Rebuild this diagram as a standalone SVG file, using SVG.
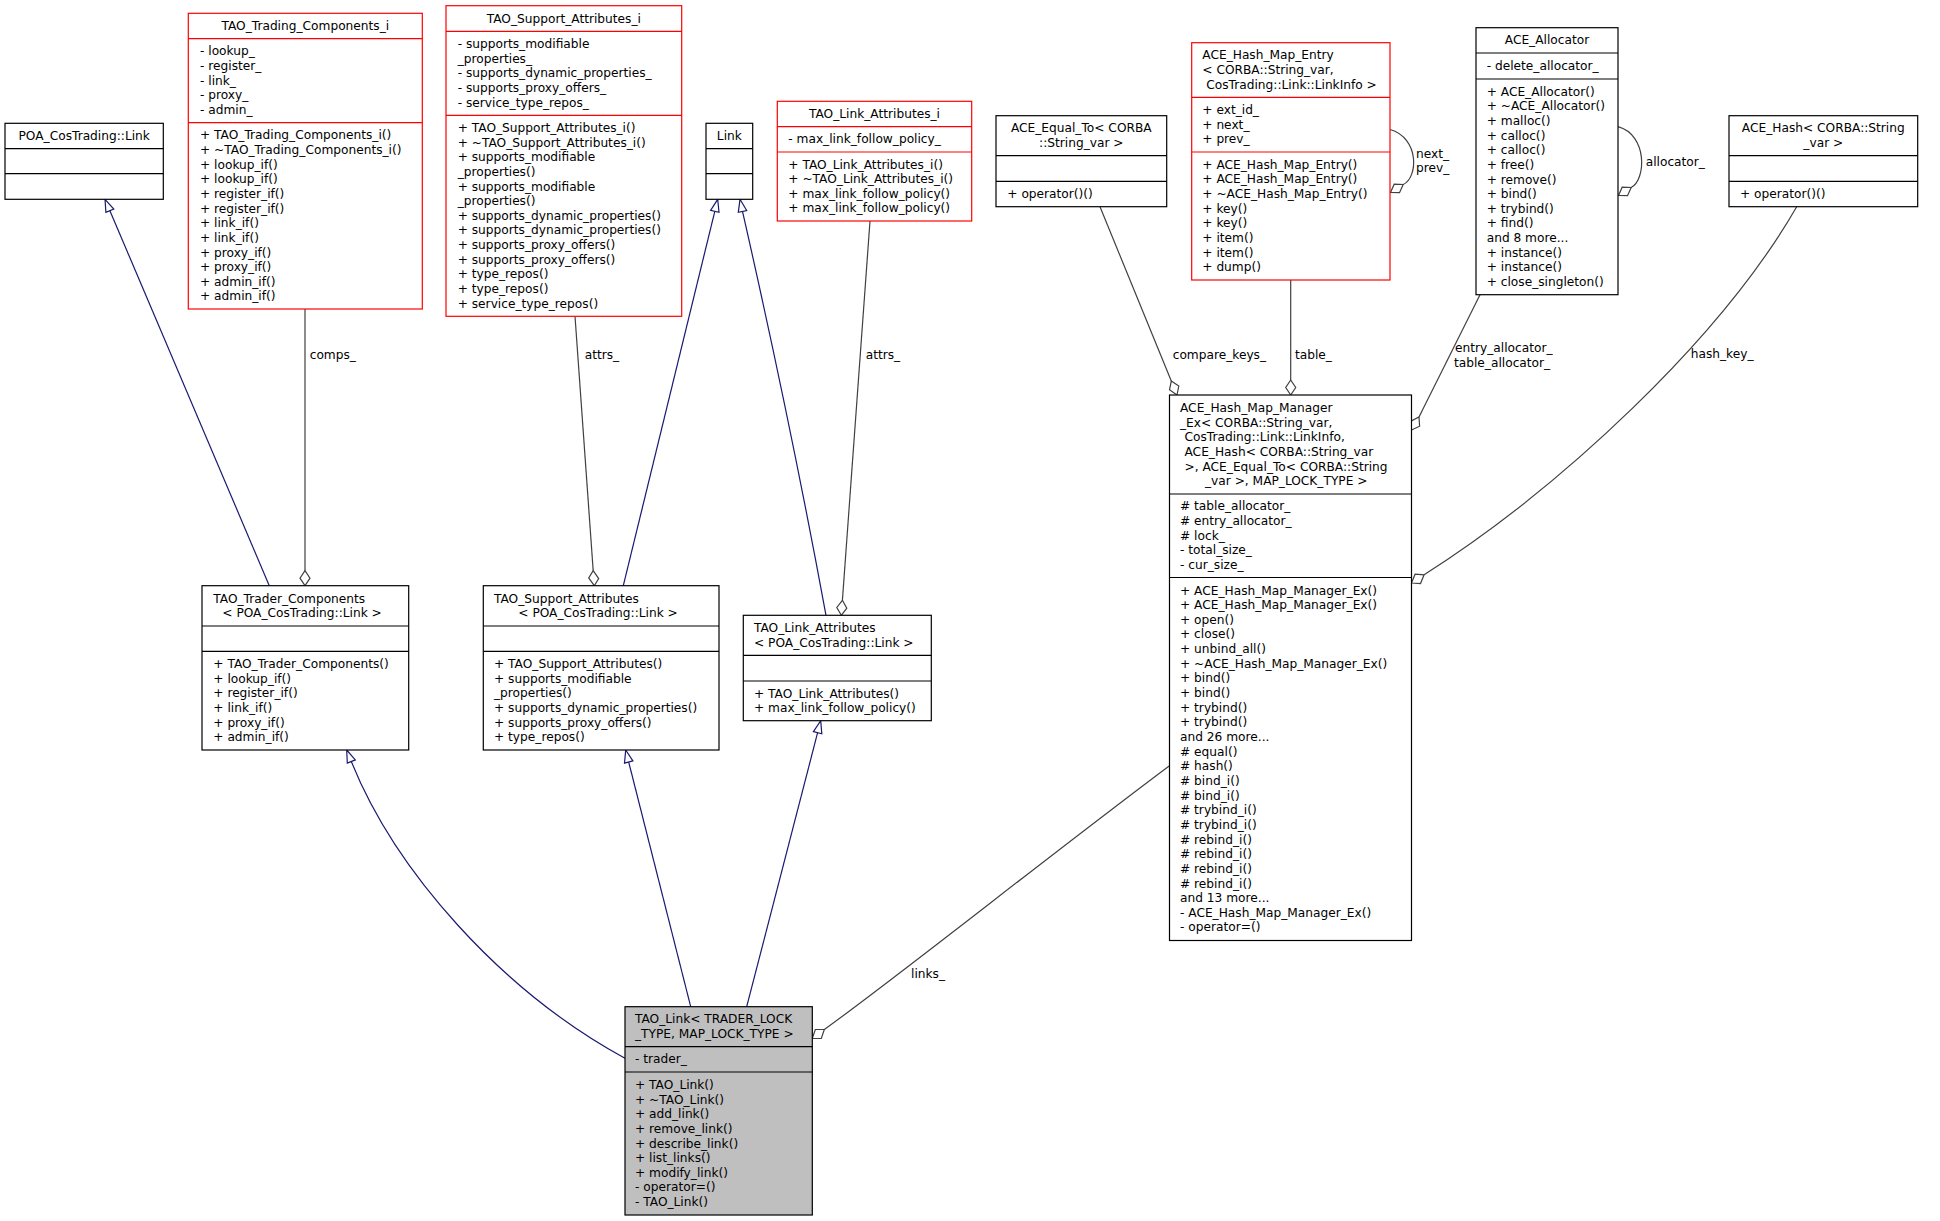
<svg xmlns="http://www.w3.org/2000/svg" width="1940" height="1221" viewBox="0 0 1940 1221">
<style>
text{font-family:"DejaVu Sans",sans-serif;font-size:12.2px;fill:#000}
.m{text-anchor:middle}
.b{fill:#fff;stroke:#000;stroke-width:1.2}
.rd{fill:#fff;stroke:#ff0000;stroke-width:1.2}
.g{fill:#bfbfbf;stroke:#000;stroke-width:1.2}
.dk{stroke:#000;stroke-width:1.2}
.dr{stroke:#ff0000;stroke-width:1.2}
.i{fill:none;stroke:#191970;stroke-width:1.2}
.ia{fill:#fff;stroke:#191970;stroke-width:1.2}
.u{fill:none;stroke:#404040;stroke-width:1.2}
.ua{fill:#fff;stroke:#404040;stroke-width:1.2}
</style>
<rect width="1940" height="1221" fill="#fff"/>
<g id="edges">
<!-- inheritance -->
<path class="i" d="M109.9,210.7 L269.3,585.7"/>
<polygon class="ia" points="105,199.3 113.8,209 105.9,212.4"/>
<path class="i" d="M714.8,211.3 L623.3,585.7"/>
<polygon class="ia" points="717.7,199.3 719,212.3 710.6,210.3"/>
<path class="i" d="M742.5,211.4 Q790,420 826,615.3"/>
<polygon class="ia" points="740,199.3 746.7,210.5 738.3,212.3"/>
<path class="i" d="M351.3,761.5 C395,870 500,990 625,1058.3"/>
<polygon class="ia" points="346.7,750 355.3,759.9 347.3,763.1"/>
<path class="i" d="M628.7,762 L690.7,1006.7"/>
<polygon class="ia" points="625.7,750 632.9,760.9 624.5,763.1"/>
<path class="i" d="M817.6,732.7 L746.7,1006.7"/>
<polygon class="ia" points="820.7,720.7 821.8,733.8 813.4,731.6"/>
<!-- aggregation -->
<path class="u" d="M305,309 L305,570.7"/>
<polygon class="ua" points="305,585.7 310,578.2 305,570.7 300,578.2"/>
<text x="309.7" y="359.3">comps_</text>
<path class="u" d="M575,316.3 L593.2,570.7"/>
<polygon class="ua" points="594.3,585.7 598.7,578.6 593.2,570.7 588.7,577.9"/>
<text x="584.7" y="359.3">attrs_</text>
<path class="u" d="M870,221 L842.4,600.3"/>
<polygon class="ua" points="841.3,615.3 846.8,608.2 842.4,600.3 836.8,607.5"/>
<text x="865.7" y="359.3">attrs_</text>
<path class="u" d="M1100,206.7 L1171.3,381.1"/>
<polygon class="ua" points="1177,395 1178.8,386 1171.3,381.1 1169.5,389.8"/>
<text x="1172.7" y="359.3">compare_keys_</text>
<path class="u" d="M1290.7,280 L1290.7,380"/>
<polygon class="ua" points="1290.7,395 1295.7,387.5 1290.7,380 1285.7,387.5"/>
<text x="1295" y="359.3">table_</text>
<path class="u" d="M1480,294.7 L1419,417"/>
<polygon class="ua" points="1411.5,430 1419.6,426.2 1419,417 1410.9,421.2"/>
<text x="1455" y="352.3">entry_allocator_</text>
<text x="1454" y="367">table_allocator_</text>
<path class="u" d="M1424.1,574.8 C1560,488 1720,340 1796.7,206.7"/>
<polygon class="ua" points="1411.5,583 1420.5,583.6 1424.1,574.8 1415.1,574.2"/>
<text x="1690.7" y="358.3">hash_key_</text>
<path class="u" d="M824.3,1029.5 C900,975 1050,855 1169.5,765.7"/>
<polygon class="ua" points="812.3,1038.5 821.3,1038.5 824.3,1029.5 815.3,1029.5"/>
<text x="911" y="978">links_</text>
<path class="u" d="M1390,129.5 C1420,138 1418,178 1403.2,184.5"/>
<polygon class="ua" points="1390.5,192.5 1399.5,192.7 1403.2,184.5 1394.2,184.2"/>
<text x="1416" y="157.5">next_</text>
<text x="1416" y="172.2">prev_</text>
<path class="u" d="M1618,126.7 C1648,135 1646,180 1631.2,187.5"/>
<polygon class="ua" points="1618.5,195.5 1627.5,195.7 1631.2,187.5 1622.2,187.2"/>
<text x="1645.7" y="165.5">allocator_</text>
</g>
<g id="n_poa">
<rect class="b" x="5" y="123.3" width="158.3" height="76"/>
<path class="dk" d="M5,148.7H163.3M5,173.7H163.3"/>
<text class="m" x="84.2" y="140">POA_CosTrading::Link</text>
</g>
<g id="n_tci">
<rect class="rd" x="188.3" y="13.3" width="234" height="295.7"/>
<path class="dr" d="M188.3,38.7H422.3M188.3,122.7H422.3"/>
<text class="m" x="305.3" y="30">TAO_Trading_Components_i</text>
<text><tspan x="200" y="55.4">- lookup_</tspan><tspan x="200" y="70.05">- register_</tspan><tspan x="200" y="84.7">- link_</tspan><tspan x="200" y="99.35">- proxy_</tspan><tspan x="200" y="114">- admin_</tspan></text>
<text><tspan x="200" y="139.3">+ TAO_Trading_Components_i()</tspan><tspan x="200" y="153.95">+ ~TAO_Trading_Components_i()</tspan><tspan x="200" y="168.6">+ lookup_if()</tspan><tspan x="200" y="183.25">+ lookup_if()</tspan><tspan x="200" y="197.9">+ register_if()</tspan><tspan x="200" y="212.55">+ register_if()</tspan><tspan x="200" y="227.2">+ link_if()</tspan><tspan x="200" y="241.85">+ link_if()</tspan><tspan x="200" y="256.5">+ proxy_if()</tspan><tspan x="200" y="271.15">+ proxy_if()</tspan><tspan x="200" y="285.8">+ admin_if()</tspan><tspan x="200" y="300.45">+ admin_if()</tspan></text>
</g>
<g id="n_sai">
<rect class="rd" x="446" y="5.7" width="235.7" height="310.6"/>
<path class="dr" d="M446,31.3H681.7M446,115.3H681.7"/>
<text class="m" x="563.85" y="22.5">TAO_Support_Attributes_i</text>
<text><tspan x="457.7" y="48">- supports_modifiable</tspan><tspan x="457.7" y="62.65">_properties_</tspan><tspan x="457.7" y="77.3">- supports_dynamic_properties_</tspan><tspan x="457.7" y="91.95">- supports_proxy_offers_</tspan><tspan x="457.7" y="106.6">- service_type_repos_</tspan></text>
<text><tspan x="457.7" y="131.9">+ TAO_Support_Attributes_i()</tspan><tspan x="457.7" y="146.55">+ ~TAO_Support_Attributes_i()</tspan><tspan x="457.7" y="161.2">+ supports_modifiable</tspan><tspan x="457.7" y="175.85">_properties()</tspan><tspan x="457.7" y="190.5">+ supports_modifiable</tspan><tspan x="457.7" y="205.15">_properties()</tspan><tspan x="457.7" y="219.8">+ supports_dynamic_properties()</tspan><tspan x="457.7" y="234.45">+ supports_dynamic_properties()</tspan><tspan x="457.7" y="249.1">+ supports_proxy_offers()</tspan><tspan x="457.7" y="263.75">+ supports_proxy_offers()</tspan><tspan x="457.7" y="278.4">+ type_repos()</tspan><tspan x="457.7" y="293.05">+ type_repos()</tspan><tspan x="457.7" y="307.7">+ service_type_repos()</tspan></text>
</g>
<g id="n_link">
<rect class="b" x="706" y="123.3" width="46.7" height="76"/>
<path class="dk" d="M706,148.7H752.7M706,173.7H752.7"/>
<text class="m" x="729.35" y="140">Link</text>
</g>
<g id="n_lai">
<rect class="rd" x="777.3" y="101.3" width="194.4" height="119.7"/>
<path class="dr" d="M777.3,126.7H971.7M777.3,152H971.7"/>
<text class="m" x="874.5" y="118">TAO_Link_Attributes_i</text>
<text x="788.3" y="143.35">- max_link_follow_policy_</text>
<text><tspan x="788.3" y="168.5">+ TAO_Link_Attributes_i()</tspan><tspan x="788.3" y="183.15">+ ~TAO_Link_Attributes_i()</tspan><tspan x="788.3" y="197.8">+ max_link_follow_policy()</tspan><tspan x="788.3" y="212.45">+ max_link_follow_policy()</tspan></text>
</g>
<g id="n_eq">
<rect class="b" x="996" y="115.7" width="170.7" height="91"/>
<path class="dk" d="M996,155.7H1166.7M996,181.3H1166.7"/>
<text class="m"><tspan x="1081.3" y="132.4">ACE_Equal_To&lt; CORBA</tspan><tspan x="1081.3" y="147.05">::String_var &gt;</tspan></text>
<text x="1007.3" y="198">+ operator()()</text>
</g>
<g id="n_entry">
<rect class="rd" x="1191.7" y="42.7" width="198.3" height="237.3"/>
<path class="dr" d="M1191.7,97.3H1390M1191.7,152H1390"/>
<text><tspan x="1202.3" y="59.35">ACE_Hash_Map_Entry</tspan><tspan x="1202.3" y="74">&lt; CORBA::String_var,</tspan><tspan x="1206.3" y="88.65">CosTrading::Link::LinkInfo &gt;</tspan></text>
<text><tspan x="1202.3" y="114">+ ext_id_</tspan><tspan x="1202.3" y="128.65">+ next_</tspan><tspan x="1202.3" y="143.3">+ prev_</tspan></text>
<text><tspan x="1202.3" y="168.7">+ ACE_Hash_Map_Entry()</tspan><tspan x="1202.3" y="183.35">+ ACE_Hash_Map_Entry()</tspan><tspan x="1202.3" y="198">+ ~ACE_Hash_Map_Entry()</tspan><tspan x="1202.3" y="212.65">+ key()</tspan><tspan x="1202.3" y="227.3">+ key()</tspan><tspan x="1202.3" y="241.95">+ item()</tspan><tspan x="1202.3" y="256.6">+ item()</tspan><tspan x="1202.3" y="271.25">+ dump()</tspan></text>
</g>
<g id="n_alloc">
<rect class="b" x="1476" y="27.7" width="142" height="267"/>
<path class="dk" d="M1476,53H1618M1476,79H1618"/>
<text class="m" x="1547" y="44.3">ACE_Allocator</text>
<text x="1486.7" y="70">- delete_allocator_</text>
<text><tspan x="1486.7" y="95.6">+ ACE_Allocator()</tspan><tspan x="1486.7" y="110.25">+ ~ACE_Allocator()</tspan><tspan x="1486.7" y="124.9">+ malloc()</tspan><tspan x="1486.7" y="139.55">+ calloc()</tspan><tspan x="1486.7" y="154.2">+ calloc()</tspan><tspan x="1486.7" y="168.85">+ free()</tspan><tspan x="1486.7" y="183.5">+ remove()</tspan><tspan x="1486.7" y="198.15">+ bind()</tspan><tspan x="1486.7" y="212.8">+ trybind()</tspan><tspan x="1486.7" y="227.45">+ find()</tspan><tspan x="1486.7" y="242.1">and 8 more...</tspan><tspan x="1486.7" y="256.75">+ instance()</tspan><tspan x="1486.7" y="271.4">+ instance()</tspan><tspan x="1486.7" y="286.05">+ close_singleton()</tspan></text>
</g>
<g id="n_hash">
<rect class="b" x="1729" y="115.7" width="188.7" height="91"/>
<path class="dk" d="M1729,155.7H1917.7M1729,181.3H1917.7"/>
<text class="m"><tspan x="1823.3" y="132.4">ACE_Hash&lt; CORBA::String</tspan><tspan x="1823.3" y="147.05">_var &gt;</tspan></text>
<text x="1740" y="198">+ operator()()</text>
</g>
<g id="n_mgr">
<rect class="b" x="1169.5" y="395" width="242" height="545.5"/>
<path class="dk" d="M1169.5,494H1411.5M1169.5,577.5H1411.5"/>
<text><tspan x="1180" y="411.9">ACE_Hash_Map_Manager</tspan><tspan x="1180" y="426.55">_Ex&lt; CORBA::String_var,</tspan><tspan x="1184.5" y="441.2">CosTrading::Link::LinkInfo,</tspan><tspan x="1184.5" y="455.85">ACE_Hash&lt; CORBA::String_var</tspan><tspan x="1184.5" y="470.5">&gt;, ACE_Equal_To&lt; CORBA::String</tspan><tspan x="1205" y="485.15">_var &gt;, MAP_LOCK_TYPE &gt;</tspan></text>
<text><tspan x="1180" y="510.45"># table_allocator_</tspan><tspan x="1180" y="525.1"># entry_allocator_</tspan><tspan x="1180" y="539.75"># lock_</tspan><tspan x="1180" y="554.4">- total_size_</tspan><tspan x="1180" y="569.05">- cur_size_</tspan></text>
<text><tspan x="1180" y="594.5">+ ACE_Hash_Map_Manager_Ex()</tspan><tspan x="1180" y="609.15">+ ACE_Hash_Map_Manager_Ex()</tspan><tspan x="1180" y="623.8">+ open()</tspan><tspan x="1180" y="638.45">+ close()</tspan><tspan x="1180" y="653.1">+ unbind_all()</tspan><tspan x="1180" y="667.75">+ ~ACE_Hash_Map_Manager_Ex()</tspan><tspan x="1180" y="682.4">+ bind()</tspan><tspan x="1180" y="697.05">+ bind()</tspan><tspan x="1180" y="711.7">+ trybind()</tspan><tspan x="1180" y="726.35">+ trybind()</tspan><tspan x="1180" y="741">and 26 more...</tspan><tspan x="1180" y="755.65"># equal()</tspan><tspan x="1180" y="770.3"># hash()</tspan><tspan x="1180" y="784.95"># bind_i()</tspan><tspan x="1180" y="799.6"># bind_i()</tspan><tspan x="1180" y="814.25"># trybind_i()</tspan><tspan x="1180" y="828.9"># trybind_i()</tspan><tspan x="1180" y="843.55"># rebind_i()</tspan><tspan x="1180" y="858.2"># rebind_i()</tspan><tspan x="1180" y="872.85"># rebind_i()</tspan><tspan x="1180" y="887.5"># rebind_i()</tspan><tspan x="1180" y="902.15">and 13 more...</tspan><tspan x="1180" y="916.8">- ACE_Hash_Map_Manager_Ex()</tspan><tspan x="1180" y="931.45">- operator=()</tspan></text>
</g>
<g id="n_trader">
<rect class="b" x="202" y="585.7" width="206.7" height="164.3"/>
<path class="dk" d="M202,626H408.7M202,651.3H408.7"/>
<text><tspan x="213.3" y="602.5">TAO_Trader_Components</tspan><tspan x="222.3" y="617.15">&lt; POA_CosTrading::Link &gt;</tspan></text>
<text><tspan x="213.3" y="668">+ TAO_Trader_Components()</tspan><tspan x="213.3" y="682.65">+ lookup_if()</tspan><tspan x="213.3" y="697.3">+ register_if()</tspan><tspan x="213.3" y="711.95">+ link_if()</tspan><tspan x="213.3" y="726.6">+ proxy_if()</tspan><tspan x="213.3" y="741.25">+ admin_if()</tspan></text>
</g>
<g id="n_support">
<rect class="b" x="483.3" y="585.7" width="235.7" height="164.3"/>
<path class="dk" d="M483.3,626H719M483.3,651.3H719"/>
<text><tspan x="494" y="602.5">TAO_Support_Attributes</tspan><tspan x="518.3" y="617.15">&lt; POA_CosTrading::Link &gt;</tspan></text>
<text><tspan x="494" y="668">+ TAO_Support_Attributes()</tspan><tspan x="494" y="682.65">+ supports_modifiable</tspan><tspan x="494" y="697.3">_properties()</tspan><tspan x="494" y="711.95">+ supports_dynamic_properties()</tspan><tspan x="494" y="726.6">+ supports_proxy_offers()</tspan><tspan x="494" y="741.25">+ type_repos()</tspan></text>
</g>
<g id="n_linkattr">
<rect class="b" x="743.3" y="615.3" width="188" height="105.4"/>
<path class="dk" d="M743.3,655.3H931.3M743.3,681H931.3"/>
<text><tspan x="754" y="632">TAO_Link_Attributes</tspan><tspan x="754" y="646.65">&lt; POA_CosTrading::Link &gt;</tspan></text>
<text><tspan x="754" y="697.5">+ TAO_Link_Attributes()</tspan><tspan x="754" y="712.15">+ max_link_follow_policy()</tspan></text>
</g>
<g id="n_taolink">
<rect class="g" x="625" y="1006.7" width="187.3" height="208.3"/>
<path class="dk" d="M625,1046.7H812.3M625,1072H812.3"/>
<text><tspan x="635" y="1023.3">TAO_Link&lt; TRADER_LOCK</tspan><tspan x="635" y="1037.95">_TYPE, MAP_LOCK_TYPE &gt;</tspan></text>
<text x="635" y="1063.35">- trader_</text>
<text><tspan x="635" y="1088.9">+ TAO_Link()</tspan><tspan x="635" y="1103.55">+ ~TAO_Link()</tspan><tspan x="635" y="1118.2">+ add_link()</tspan><tspan x="635" y="1132.85">+ remove_link()</tspan><tspan x="635" y="1147.5">+ describe_link()</tspan><tspan x="635" y="1162.15">+ list_links()</tspan><tspan x="635" y="1176.8">+ modify_link()</tspan><tspan x="635" y="1191.45">- operator=()</tspan><tspan x="635" y="1206.1">- TAO_Link()</tspan></text>
</g>
</svg>
